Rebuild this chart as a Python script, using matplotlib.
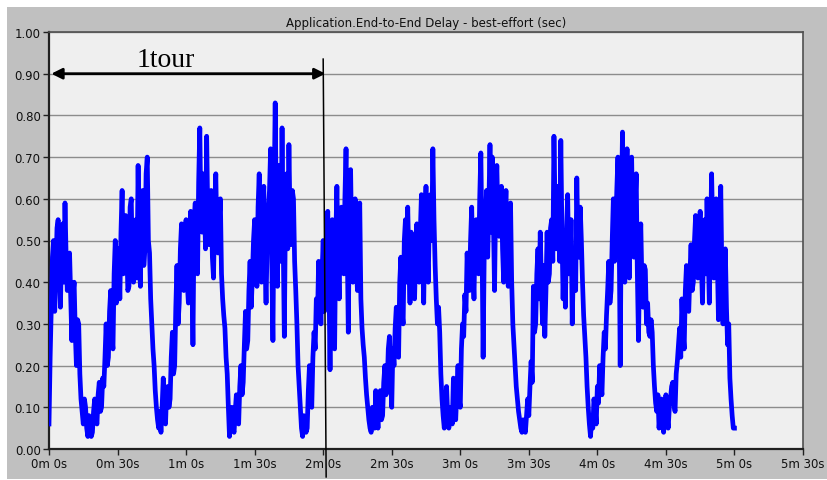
import numpy as np
import matplotlib
matplotlib.use("Agg")
import matplotlib.pyplot as plt
from matplotlib.patches import Rectangle

# end-to-end delay (sec), one sample every half second
delay = [
    0.06, 0.22, 0.34, 0.46, 0.50, 0.33, 0.42, 0.53, 0.55, 0.45, 0.34, 0.48, 0.54, 0.40, 0.59, 0.46, 0.38, 0.44, 0.47, 0.36,
    0.26, 0.37, 0.40, 0.28, 0.20, 0.31, 0.30, 0.18, 0.12, 0.09, 0.06, 0.12, 0.10, 0.05, 0.03, 0.08, 0.07, 0.03, 0.04, 0.09,
    0.12, 0.07, 0.06, 0.13, 0.16, 0.09, 0.10, 0.17, 0.15, 0.22, 0.30, 0.20, 0.22, 0.33, 0.38, 0.27, 0.24, 0.42, 0.50, 0.35,
    0.40, 0.48, 0.36, 0.52, 0.62, 0.42, 0.45, 0.56, 0.50, 0.38, 0.39, 0.58, 0.60, 0.44, 0.40, 0.52, 0.55, 0.41, 0.68, 0.47,
    0.39, 0.58, 0.62, 0.44, 0.48, 0.66, 0.70, 0.50, 0.47, 0.36, 0.30, 0.24, 0.20, 0.14, 0.10, 0.07, 0.05, 0.09, 0.04, 0.10,
    0.17, 0.08, 0.06, 0.14, 0.15, 0.10, 0.12, 0.22, 0.28, 0.18, 0.20, 0.34, 0.44, 0.30, 0.35, 0.48, 0.54, 0.40, 0.38, 0.52,
    0.55, 0.40, 0.35, 0.50, 0.57, 0.44, 0.25, 0.55, 0.59, 0.47, 0.42, 0.64, 0.77, 0.55, 0.52, 0.66, 0.60, 0.48, 0.75, 0.56,
    0.49, 0.58, 0.62, 0.46, 0.41, 0.57, 0.66, 0.50, 0.47, 0.55, 0.60, 0.42, 0.36, 0.32, 0.29, 0.22, 0.18, 0.10, 0.03, 0.07,
    0.10, 0.05, 0.04, 0.09, 0.13, 0.07, 0.06, 0.15, 0.20, 0.13, 0.16, 0.25, 0.33, 0.24, 0.26, 0.38, 0.45, 0.34, 0.41, 0.50,
    0.55, 0.43, 0.39, 0.58, 0.66, 0.47, 0.40, 0.56, 0.63, 0.45, 0.35, 0.50, 0.57, 0.62, 0.72, 0.45, 0.26, 0.60, 0.83, 0.55,
    0.39, 0.68, 0.56, 0.45, 0.77, 0.50, 0.27, 0.58, 0.66, 0.48, 0.73, 0.55, 0.49, 0.62, 0.60, 0.45, 0.38, 0.30, 0.20, 0.15,
    0.10, 0.05, 0.03, 0.08, 0.07, 0.04, 0.05, 0.14, 0.20, 0.12, 0.10, 0.22, 0.28, 0.24, 0.36, 0.31, 0.45, 0.38, 0.30, 0.42,
    0.50, 0.33, 0.40, 0.52, 0.57, 0.42, 0.19, 0.48, 0.55, 0.40, 0.24, 0.50, 0.63, 0.47, 0.36, 0.55, 0.58, 0.45, 0.42, 0.60,
    0.72, 0.50, 0.28, 0.58, 0.67, 0.48, 0.40, 0.55, 0.60, 0.44, 0.38, 0.52, 0.59, 0.36, 0.29, 0.25, 0.22, 0.17, 0.13, 0.10,
    0.07, 0.05, 0.04, 0.10, 0.07, 0.05, 0.14, 0.09, 0.05, 0.11, 0.14, 0.07, 0.08, 0.16, 0.20, 0.13, 0.15, 0.24, 0.27, 0.18,
    0.10, 0.24, 0.20, 0.29, 0.34, 0.25, 0.22, 0.40, 0.46, 0.33, 0.30, 0.50, 0.55, 0.40, 0.58, 0.45, 0.35, 0.52, 0.49, 0.38,
    0.36, 0.48, 0.54, 0.42, 0.40, 0.52, 0.61, 0.46, 0.35, 0.55, 0.63, 0.48, 0.40, 0.57, 0.61, 0.50, 0.72, 0.55, 0.44, 0.36,
    0.30, 0.34, 0.28, 0.18, 0.12, 0.08, 0.05, 0.10, 0.15, 0.08, 0.05, 0.09, 0.10, 0.06, 0.17, 0.11, 0.07, 0.14, 0.20, 0.12,
    0.10, 0.24, 0.30, 0.27, 0.37, 0.33, 0.47, 0.40, 0.38, 0.50, 0.58, 0.44, 0.36, 0.52, 0.55, 0.45, 0.42, 0.60, 0.71, 0.50,
    0.22, 0.48, 0.55, 0.62, 0.46, 0.58, 0.73, 0.52, 0.70, 0.55, 0.38, 0.60, 0.68, 0.55, 0.51, 0.60, 0.63, 0.48, 0.40, 0.55,
    0.62, 0.48, 0.39, 0.52, 0.59, 0.40, 0.30, 0.25, 0.20, 0.15, 0.12, 0.09, 0.07, 0.05, 0.04, 0.07, 0.06, 0.04, 0.08, 0.12,
    0.08, 0.15, 0.21, 0.16, 0.39, 0.28, 0.30, 0.42, 0.48, 0.36, 0.52, 0.40, 0.30, 0.44, 0.27, 0.38, 0.52, 0.40, 0.42, 0.53,
    0.55, 0.45, 0.75, 0.58, 0.48, 0.63, 0.55, 0.45, 0.74, 0.52, 0.36, 0.48, 0.34, 0.52, 0.61, 0.42, 0.45, 0.55, 0.30, 0.44,
    0.48, 0.38, 0.65, 0.50, 0.46, 0.58, 0.50, 0.40, 0.32, 0.27, 0.22, 0.15, 0.10, 0.06, 0.03, 0.07, 0.05, 0.12, 0.10, 0.06,
    0.15, 0.11, 0.20, 0.16, 0.13, 0.22, 0.28, 0.24, 0.32, 0.38, 0.45, 0.35, 0.38, 0.50, 0.60, 0.45, 0.52, 0.62, 0.70, 0.55,
    0.20, 0.58, 0.76, 0.55, 0.40, 0.62, 0.72, 0.50, 0.41, 0.60, 0.70, 0.52, 0.46, 0.58, 0.66, 0.42, 0.26, 0.45, 0.54, 0.40,
    0.34, 0.44, 0.43, 0.30, 0.35, 0.28, 0.27, 0.31, 0.28, 0.20, 0.15, 0.11, 0.09, 0.13, 0.05, 0.09, 0.12, 0.06, 0.04, 0.08,
    0.13, 0.08, 0.05, 0.10, 0.12, 0.15, 0.16, 0.11, 0.09, 0.18, 0.21, 0.25, 0.29, 0.22, 0.36, 0.28, 0.24, 0.38, 0.44, 0.34,
    0.33, 0.42, 0.49, 0.38, 0.40, 0.50, 0.56, 0.44, 0.41, 0.52, 0.57, 0.45, 0.35, 0.48, 0.55, 0.42, 0.60, 0.48, 0.35, 0.50,
    0.66, 0.52, 0.41, 0.55, 0.60, 0.45, 0.31, 0.50, 0.63, 0.42, 0.30, 0.40, 0.48, 0.34, 0.25, 0.30, 0.17, 0.12, 0.08, 0.05,
    0.05,
]
seconds = np.arange(len(delay)) * 0.5

xticks = [0, 30, 60, 90, 120, 150, 180, 210, 240, 270, 300, 330]
xlabels = ["0m 0s", "0m 30s", "1m 0s", "1m 30s", "2m 0s", "2m 30s",
           "3m 0s", "3m 30s", "4m 0s", "4m 30s", "5m 0s", "5m 30s"]
yticks = [0.0, 0.1, 0.2, 0.3, 0.4, 0.5, 0.6, 0.7, 0.8, 0.9, 1.0]

title = "Application.End-to-End Delay - best-effort (sec)"
tour_label = "1tour"
tour_start, tour_end = 1, 121

plt.rcParams['font.family'] = ['DejaVu Sans']

W, H = 828, 481
fig = plt.figure(figsize=(W / 100, H / 100), dpi=100, facecolor="white")
# grey OPNET panel behind the axes
fig.patches.append(Rectangle((7 / W, 1 / H), 1 - 7 / W, (H - 9) / H,
                             transform=fig.transFigure, facecolor="#c0c0c0",
                             edgecolor="none", zorder=-10))

ax = fig.add_axes([49 / W, (H - 450) / H, 754 / W, 417 / H])
ax.set_facecolor("#efefef")

ax.plot(seconds, delay, color="#0000ff", lw=3.4, solid_joinstyle="round", zorder=3)

ax.set_xlim(0, 330)
ax.set_ylim(0, 1.0)
ax.set_xticks(xticks)
ax.set_xticklabels(xlabels)
ax.set_yticks(yticks)
ax.set_yticklabels(["%.2f" % v for v in yticks])
ax.tick_params(labelsize=8.5, length=4, width=1, color="#202020",
               labelcolor="#101010", pad=2)
ax.yaxis.grid(True, color="#8c8c8c", lw=1)
ax.set_axisbelow(True)

for side in ["left", "bottom"]:
    ax.spines[side].set_color("#202020")
    ax.spines[side].set_linewidth(1.6)
for side in ["top", "right"]:
    ax.spines[side].set_color("#505050")
    ax.spines[side].set_linewidth(1.2)

ax.set_title(title, fontsize=8.5, color="#101010", pad=4)

# tour annotation
ax.annotate("", xy=(tour_start, 0.90), xytext=(tour_end, 0.90),
            arrowprops=dict(arrowstyle="<|-|>", color="black", lw=2,
                            mutation_scale=16, shrinkA=0, shrinkB=0),
            zorder=5)
ax.text((tour_start + tour_end) / 2 - 10, 0.918, tour_label,
        family="Liberation Serif", fontsize=20, ha="center", va="baseline",
        zorder=5)
ax.plot([tour_end - 1, tour_end + 0.3], [0.935, -0.067], color="black",
        lw=1.1, clip_on=False, zorder=6)

fig.savefig("out.png", dpi=100, facecolor=fig.get_facecolor())
